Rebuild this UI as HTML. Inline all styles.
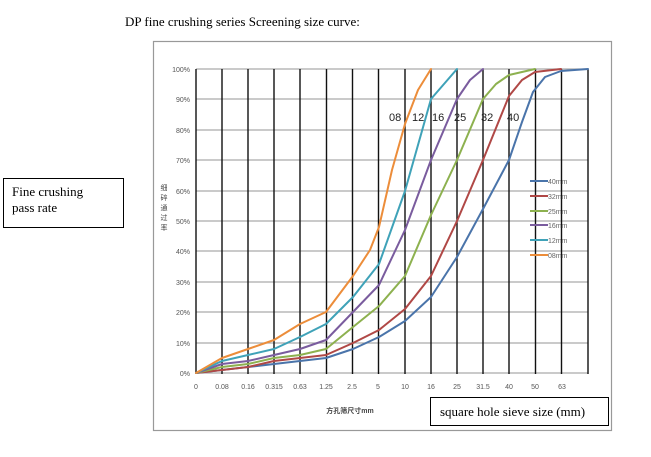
<!DOCTYPE html>
<html><head><meta charset="utf-8"><style>
body{margin:0;width:651px;height:452px;background:#fff;overflow:hidden;font-family:"Liberation Serif",serif}
</style></head><body>
<svg width="651" height="452" viewBox="0 0 651 452" xmlns="http://www.w3.org/2000/svg">
<text x="125" y="26" font-family="Liberation Serif" font-size="13" fill="#000">DP fine crushing series Screening size curve:</text>
<rect x="153.5" y="41.5" width="458" height="389" fill="#fff" stroke="#999" stroke-width="1.2"/>
<rect x="3.5" y="178.5" width="120" height="49" fill="#fff" stroke="#000"/>
<text x="12" y="196" font-size="13">Fine crushing</text>
<text x="12" y="212" font-size="13">pass rate</text>
<g stroke="#aaa" stroke-width="1.2">
<line x1="196" y1="69" x2="588" y2="69"/><line x1="196" y1="99" x2="588" y2="99"/><line x1="196" y1="130" x2="588" y2="130"/><line x1="196" y1="160" x2="588" y2="160"/><line x1="196" y1="191" x2="588" y2="191"/><line x1="196" y1="221" x2="588" y2="221"/><line x1="196" y1="251" x2="588" y2="251"/><line x1="196" y1="282" x2="588" y2="282"/><line x1="196" y1="312" x2="588" y2="312"/><line x1="196" y1="343" x2="588" y2="343"/><line x1="196" y1="373" x2="588" y2="373"/>
</g>
<g stroke="#111" stroke-width="1.4">
<line x1="196" y1="69" x2="196" y2="374"/><line x1="222" y1="69" x2="222" y2="374"/><line x1="248" y1="69" x2="248" y2="374"/><line x1="274" y1="69" x2="274" y2="374"/><line x1="300" y1="69" x2="300" y2="374"/><line x1="326.5" y1="69" x2="326.5" y2="374"/><line x1="352.5" y1="69" x2="352.5" y2="374"/><line x1="378.5" y1="69" x2="378.5" y2="374"/><line x1="405" y1="69" x2="405" y2="374"/><line x1="431" y1="69" x2="431" y2="374"/><line x1="457" y1="69" x2="457" y2="374"/><line x1="483" y1="69" x2="483" y2="374"/><line x1="509" y1="69" x2="509" y2="374"/><line x1="535.5" y1="69" x2="535.5" y2="374"/><line x1="561.5" y1="69" x2="561.5" y2="374"/><line x1="588" y1="69" x2="588" y2="374"/>
</g>
<g font-family="Liberation Sans" font-size="7" fill="#555" text-anchor="end">
<text x="190" y="72">100%</text><text x="190" y="102">90%</text><text x="190" y="133">80%</text><text x="190" y="163">70%</text><text x="190" y="194">60%</text><text x="190" y="224">50%</text><text x="190" y="254">40%</text><text x="190" y="285">30%</text><text x="190" y="315">20%</text><text x="190" y="346">10%</text><text x="190" y="376">0%</text>
</g>
<g font-family="Liberation Sans" font-size="7" fill="#555" text-anchor="middle">
<text x="196" y="389">0</text><text x="222" y="389">0.08</text><text x="248" y="389">0.16</text><text x="274" y="389">0.315</text><text x="300" y="389">0.63</text><text x="326" y="389">1.25</text><text x="352" y="389">2.5</text><text x="378" y="389">5</text><text x="405" y="389">10</text><text x="431" y="389">16</text><text x="457" y="389">25</text><text x="483" y="389">31.5</text><text x="509" y="389">40</text><text x="535" y="389">50</text><text x="562" y="389">63</text>
</g>
<text x="350" y="413" font-family="Liberation Sans,Noto Sans CJK SC,sans-serif" font-size="7" font-weight="bold" fill="#444" text-anchor="middle">方孔筛尺寸mm</text>
<g font-family="Noto Sans CJK SC,sans-serif" font-size="7" fill="#444" text-anchor="middle">
<text x="164" y="190">细</text><text x="164" y="200">碎</text><text x="164" y="210">通</text><text x="164" y="220">过</text><text x="164" y="230">率</text>
</g>
<g fill="none" stroke-width="2" stroke-linejoin="round" stroke-linecap="round">
<polyline stroke="#4a74aa" points="196,373 222,370 248,367 274,364 300,361 326,358 353,349 379,337 405,321 431,297 457,257 483,209 509,160 522,122 533,92 545,77 561,71 588,69"/>
<polyline stroke="#b04846" points="196,373 222,370 248,367 274,361 300,358 326,355 353,343 379,330 405,309 431,276 457,221 483,160 509,96 522,80 535,72 561,69"/>
<polyline stroke="#8db14f" points="196,373 222,367 248,364 274,358 300,355 326,349 353,327 379,306 405,276 431,215 457,160 483,99 496,84 509,75 535,69"/>
<polyline stroke="#7a5c9e" points="196,373 222,364 248,361 274,355 300,349 326,340 353,312 379,285 405,230 431,160 457,99 470,80 483,69"/>
<polyline stroke="#3fa2b8" points="196,373 222,361 248,355 274,349 300,337 326,324 353,297 379,264 405,191 431,99 457,69"/>
<polyline stroke="#ec8d3a" points="196,373 222,358 248,349 274,340 300,324 326,312 353,276 370,250 379,227 392,170 405,124 418,90 431,69"/>
</g>
<g font-family="Liberation Sans" font-size="11" fill="#222">
<text x="389" y="121">08</text><text x="412" y="121">12</text><text x="432" y="121">16</text><text x="454" y="121">25</text><text x="481" y="121">32</text><text x="507" y="121">40</text>
</g>
<g stroke-width="2">
<line x1="530" y1="181" x2="548" y2="181" stroke="#4a74aa"/>
<line x1="530" y1="196" x2="548" y2="196" stroke="#b04846"/>
<line x1="530" y1="211" x2="548" y2="211" stroke="#8db14f"/>
<line x1="530" y1="225" x2="548" y2="225" stroke="#7a5c9e"/>
<line x1="530" y1="240" x2="548" y2="240" stroke="#3fa2b8"/>
<line x1="530" y1="255" x2="548" y2="255" stroke="#ec8d3a"/>
</g>
<g font-family="Liberation Sans" font-size="7" fill="#666">
<text x="548" y="184">40mm</text><text x="548" y="199">32mm</text><text x="548" y="214">25mm</text><text x="548" y="228">16mm</text><text x="548" y="243">12mm</text><text x="548" y="258">08mm</text>
</g>
<rect x="430.5" y="397.5" width="178" height="28" fill="#fff" stroke="#000"/>
<text x="440" y="416" font-size="13">square hole sieve size (mm)</text>
</svg>
</body></html>
